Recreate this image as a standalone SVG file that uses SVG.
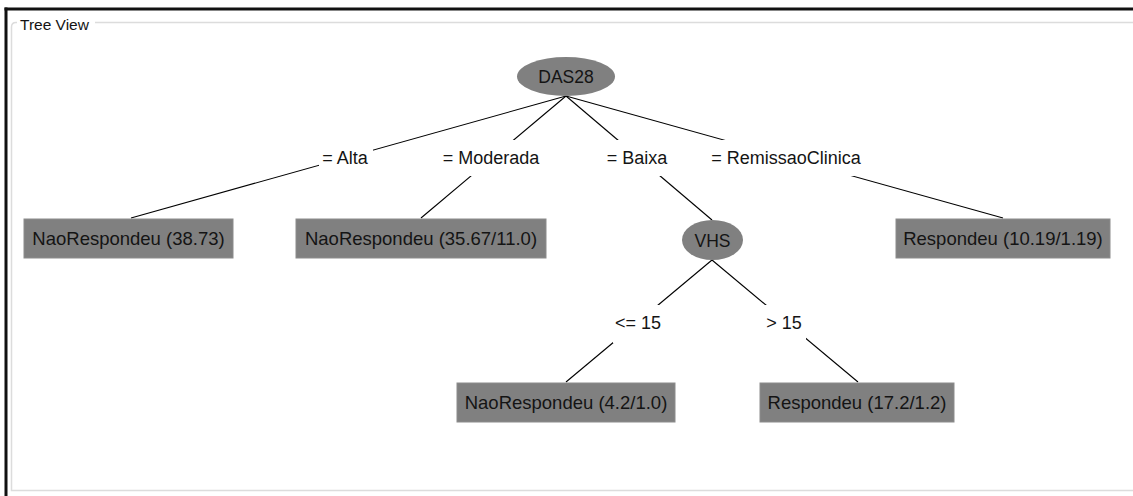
<svg xmlns="http://www.w3.org/2000/svg" width="1133" height="496" viewBox="0 0 1133 496">
  <style>
    text { font-family: "Liberation Sans", Arial, sans-serif; fill: #141414; }
    .leaf rect { fill: #808080; stroke: #8c8c8c; stroke-width: 1; }
    .split ellipse { fill: #808080; }
    .leaf text { font-size: 18.5px; text-anchor: middle; }
    .split text { font-size: 17.5px; text-anchor: middle; }
    .edge line { stroke: #000; stroke-width: 1.1; }
    .lbl rect { fill: #fff; }
    .lbl text { font-size: 18px; text-anchor: middle; }
  </style>

  <!-- background and window frame -->
  <rect x="0" y="0" width="1133" height="496" fill="#fff"/>
  <line x1="4.5" y1="9" x2="1133" y2="9" stroke="#111" stroke-width="3"/>
  <line x1="6" y1="7.5" x2="6" y2="496" stroke="#111" stroke-width="3"/>

  <!-- titled group box -->
  <path d="M 16 22.5 L 1133 22.5 M 11.5 27 L 11.5 490.5 L 1133 490.5 M 11.5 27 Q 11.5 22.5 16 22.5" fill="none" stroke="#dcdcdc" stroke-width="1.5"/>
  <rect x="17" y="14" width="78" height="18" fill="#fff"/>
  <text x="20" y="30" font-size="15.5">Tree View</text>

  <!-- connectors with their labels -->
  <g id="connectors">
    <g class="edge">
      <line x1="566" y1="96" x2="131" y2="218"/>
      <line x1="566" y1="96" x2="421" y2="218"/>
      <line x1="566" y1="96" x2="712" y2="220"/>
      <line x1="566" y1="96" x2="1003" y2="218"/>
      <line x1="712" y1="260" x2="566" y2="382"/>
      <line x1="712" y1="260" x2="858" y2="382"/>
    </g>
    <g class="lbl">
      <rect x="319" y="140" width="54" height="36"/>
      <text x="345" y="163.5">= Alta</text>
      <rect x="438" y="140" width="107" height="36"/>
      <text x="491" y="163.5">= Moderada</text>
      <rect x="603" y="140" width="69" height="36"/>
      <text x="637" y="163.5">= Baixa</text>
      <rect x="702" y="140" width="168" height="36"/>
      <text x="786" y="163.5">= RemissaoClinica</text>
      <rect x="613" y="305" width="51" height="38"/>
      <text x="638" y="328.5">&lt;= 15</text>
      <rect x="762" y="305" width="44" height="38"/>
      <text x="784" y="328.5">&gt; 15</text>
    </g>
  </g>

  <!-- split nodes -->
  <g id="node-das28" class="split">
    <ellipse cx="566" cy="76.5" rx="49" ry="19.5"/>
    <text x="566" y="83">DAS28</text>
  </g>
  <g id="node-vhs" class="split">
    <ellipse cx="712.5" cy="240" rx="30.5" ry="20"/>
    <text x="712.5" y="246.5">VHS</text>
  </g>

  <!-- leaf nodes -->
  <g id="leaf-alta" class="leaf">
    <rect x="24" y="219" width="209" height="39"/>
    <text x="128.5" y="245">NaoRespondeu (38.73)</text>
  </g>
  <g id="leaf-moderada" class="leaf">
    <rect x="296" y="219" width="250" height="39"/>
    <text x="421" y="245">NaoRespondeu (35.67/11.0)</text>
  </g>
  <g id="leaf-remissao" class="leaf">
    <rect x="896" y="219" width="214" height="39"/>
    <text x="1003" y="245">Respondeu (10.19/1.19)</text>
  </g>
  <g id="leaf-vhs-le15" class="leaf">
    <rect x="457" y="383" width="218" height="39"/>
    <text x="566" y="409">NaoRespondeu (4.2/1.0)</text>
  </g>
  <g id="leaf-vhs-gt15" class="leaf">
    <rect x="760" y="383" width="194" height="39"/>
    <text x="857" y="409">Respondeu (17.2/1.2)</text>
  </g>
</svg>
